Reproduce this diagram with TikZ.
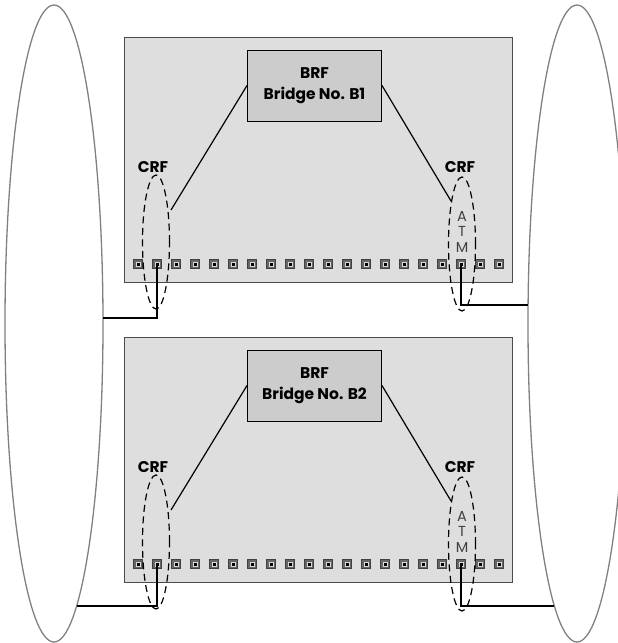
\documentclass[tikz,border=0pt]{standalone}
\usepackage{fontspec}
\setmainfont{Poppins}
\usetikzlibrary{shapes.geometric,calc}
\definecolor{panelfill}{HTML}{DEDEDE}
\definecolor{panelline}{HTML}{4A4A4A}
\definecolor{brffill}{HTML}{CCCCCC}
\definecolor{ringcol}{HTML}{808080}
\tikzset{
  panel/.style={draw=panelline, fill=panelfill, line width=1.2pt, minimum width=388pt, minimum height=245pt, anchor=north west, inner sep=0pt},
  brfbox/.style={draw=black, fill=brffill, line width=1pt, minimum width=134pt, minimum height=71pt, align=center, font=\bfseries\fontsize{15.5}{21}\selectfont, inner sep=0pt},
  ring/.style={ellipse, draw=ringcol, line width=1.3pt, minimum width=98pt, minimum height=637pt, inner sep=0pt},
  crfring/.style={ellipse, draw=black, dash pattern=on 7pt off 4.5pt, line width=1.2pt, minimum width=27pt, minimum height=134pt, inner sep=0pt},
  crflabel/.style={font=\bfseries\fontsize{15.5}{17}\selectfont, inner sep=0pt},
  atm/.style={font=\fontsize{14.5}{16}\selectfont, text=black!75, inner sep=0pt},
  port/.style={draw=black!75, fill=black!60, line width=0.6pt, minimum size=8.5pt, inner sep=0pt},
  portin/.style={fill=black!15, minimum size=5.5pt, inner sep=0pt},
  portcore/.style={fill=black, minimum size=3.5pt, inner sep=0pt},
  conn/.style={draw=black, line width=1.2pt},
}
\begin{document}
\begin{tikzpicture}[x=1pt,y=-1pt]
\useasboundingbox (0,0) rectangle (618,643);
\clip (0,0) rectangle (618,643);
% big rings
\node[ring] (ringL) at (54,323.5) {};
\node[ring] (ringR) at (577,323.5) {};
% panels
\foreach \k/\dy/\name in {1/0/B1,2/300/B2}{
  \node[panel] (panel\k) at (124,37+\dy) {};
  \foreach \i in {0,...,19}{
    \node[port] (p\k-\i) at ({138+19*\i},{264+\dy}) {};
    \node[portin] at ($(p\k-\i.center)+(0.4,0.4)$) {};
    \node[portcore] at ($(p\k-\i.center)+(0.6,0.6)$) {};
  }
  \node[brfbox] (brf\k) at (314.5,{85.5+\dy}) {BRF\\Bridge No. \name};
  \node[crfring] (crfL\k) at (156,{242+\dy}) {};
  \node[crfring] (crfR\k) at (462,{244+\dy}) {};
  \node[crflabel] (crfLt\k) at (153,{167+\dy}) {CRF};
  \node[crflabel] (crfRt\k) at (460,{167+\dy}) {CRF};
  \node[atm] (atmA\k) at (462,{216+\dy}) {A};
  \node[atm] (atmT\k) at (462,{231+\dy}) {T};
  \node[atm] (atmM\k) at (462,{247+\dy}) {M};
  \coordinate (lineL\k) at (171,{210+\dy});
  \coordinate (lineR\k) at (451,{201+\dy});
  \draw[conn] (brf\k.west) -- (lineL\k);
  \draw[conn] (brf\k.east) -- (lineR\k);
}
% connectors to rings
\coordinate (cL1) at (103,318);
\coordinate (cR1) at (528,305);
\coordinate (cL2) at (77,606);
\coordinate (cR2) at (554,606);
\draw[conn] (p1-1.center) -- (p1-1.center |- cL1) -- (cL1);
\draw[conn] (p1-17.center) -- (p1-17.center |- cR1) -- (cR1);
\draw[conn] (p2-1.center) -- (p2-1.center |- cL2) -- (cL2);
\draw[conn] (p2-17.center) -- (p2-17.center |- cR2) -- (cR2);
\end{tikzpicture}
\end{document}
